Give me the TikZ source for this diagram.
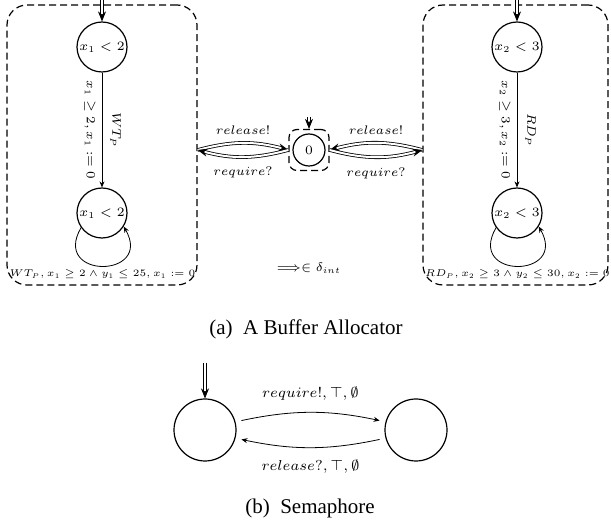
\RequirePackage{fix-cm}
\documentclass[tikz,border=0pt]{standalone}
\usepackage[no-math]{fontspec}
\setmainfont{Liberation Serif}
\usetikzlibrary{arrows.meta}

\tikzset{
  state/.style={circle, draw, semithick, minimum size=25pt, inner sep=0pt, font=\fontsize{6.4}{7.5}\selectfont},
  cluster/.style={draw, dash pattern=on 3.5pt off 2pt, rounded corners=10pt, semithick},
  init/.style={double, double distance=1pt, -{Stealth[length=5pt,width=4pt]}},
  trans/.style={-{Stealth[length=3pt,width=2.5pt]}},
  lbl/.style={font=\fontsize{6.2}{7.5}\selectfont, inner sep=2pt},
  looplbl/.style={font=\fontsize{4.9}{6}\selectfont, inner sep=1.5pt},
  semlbl/.style={font=\fontsize{7.2}{8.5}\selectfont, inner sep=2pt},
  captext/.style={font=\fontsize{10.5}{12}\selectfont},
}

\begin{document}
\begin{tikzpicture}[x=0.5pt, y=0.5pt]
	\useasboundingbox (0,0) rectangle (611,-529);
	
	\node[cluster, minimum width=95pt, minimum height=140pt] (boxL) at (102,-145) {};
	\node[cluster, minimum width=92.5pt, minimum height=140pt] (boxR) at (515.5,-145) {};
	\node[state] (L1) at (102,-47) {$x_1<2$};
	\node[state] (L2) at (102,-213) {$x_1<2$};
	\node[state] (R1) at (517,-47) {$x_2<3$};
	\node[state] (R2) at (517,-213) {$x_2<3$};
	\node[state, minimum size=16pt] (zero) at (309,-150) {$0$};
	\node[cluster, rounded corners=4pt, minimum width=20pt, minimum height=20.5pt] (zbox) at (309,-150) {};
	
	\coordinate (inL) at (102,0);
	\coordinate (inR) at (517,0);
	\coordinate (inZ) at (309,-117);
	\draw[init] (inL) -- (L1);
	\draw[init] (inR) -- (R1);
	\draw[init] (inZ) -- (zbox);
	
	\draw[trans] (L1) -- (L2)
		node[lbl, midway, rotate=-90, anchor=north, inner sep=3pt] {$x_1 \geq 2, x_1 := 0$}
		node[lbl, midway, rotate=-90, anchor=south, inner sep=4pt] {$WT_P$};
	\draw[trans] (R1) -- (R2)
		node[lbl, midway, rotate=-90, anchor=north, inner sep=3pt] {$x_2 \geq 3, x_2 := 0$}
		node[lbl, midway, rotate=-90, anchor=south, inner sep=4pt] {$RD_P$};
	
	\draw[trans] (L2.215) .. controls +(240:60) and +(300:60) .. (L2.328)
		node[looplbl, midway, below] {$WT_P, x_1 \geq 2 \wedge y_1 \leq 25, x_1 := 0$};
	\draw[trans] (R2.215) .. controls +(240:60) and +(300:60) .. (R2.328)
		node[looplbl, midway, below] {$RD_P, x_2 \geq 3 \wedge y_2 \leq 30, x_2 := 0$};
	
	\draw[init] (boxL.east |- zbox.west) to[bend left=15] node[lbl, above=2pt] {$release!$} (zbox.west);
	\draw[init] (zbox.west) to[bend left=15] node[lbl, below=3pt] {$require?$} (boxL.east |- zbox.west);
	\draw[init] (boxR.west |- zbox.east) to[bend right=15] node[lbl, above=2pt] {$release!$} (zbox.east);
	\draw[init] (zbox.east) to[bend right=15] node[lbl, below=3pt] {$require?$} (boxR.west |- zbox.east);
	
	\node[lbl] (dint) at (309,-268) {$\Longrightarrow\in\delta_{int}$};
	\node[captext] (capA) at (306,-329) {(a)~~A Buffer Allocator};
	
	% semaphore
	\node[state, minimum size=31pt] (S1) at (205,-430) {};
	\node[state, minimum size=31pt] (S2) at (416,-430) {};
	\coordinate (inS) at (205,-363);
	\draw[init] (inS) -- (S1);
	\draw[trans, shorten <=3pt, shorten >=3pt] (S1.15) to[bend left=12]
		node[semlbl, above=4pt] {$require!, \top, \emptyset$} (S2.165);
	\draw[trans, shorten <=3pt, shorten >=3pt] (S2.195) to[bend left=12]
		node[semlbl, below=4pt] {$release?, \top, \emptyset$} (S1.-15);
	
	\node[captext] (capB) at (310,-508) {(b)~~Semaphore};
\end{tikzpicture}
\end{document}
